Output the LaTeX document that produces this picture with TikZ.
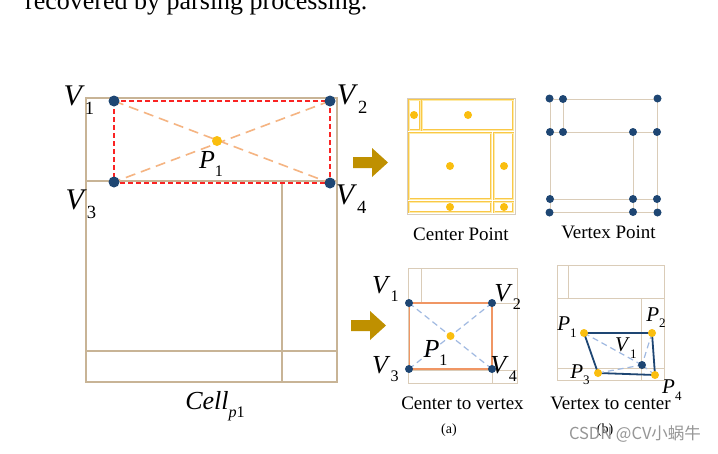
\documentclass[tikz,border=0pt]{standalone}
\usepackage{fontspec}
\setmainfont{Liberation Serif}
\newfontfamily\cjk{Noto Sans CJK SC}
\usetikzlibrary{positioning, backgrounds}

\definecolor{vblue}{RGB}{30,70,115}
\definecolor{cyellow}{RGB}{250,190,15}
\definecolor{celltan}{RGB}{200,180,150}
\definecolor{thintan}{RGB}{218,204,184}
\definecolor{reddash}{RGB}{250,35,35}
\definecolor{peach}{RGB}{245,180,130}
\definecolor{rectorange}{RGB}{240,150,100}
\definecolor{dashblue}{RGB}{160,185,225}
\definecolor{arrowgold}{RGB}{191,144,0}
\definecolor{ylwline}{RGB}{250,200,70}
\definecolor{ylwpale}{RGB}{253,235,170}
\definecolor{cpframe}{RGB}{215,205,190}
\definecolor{wmgray}{RGB}{150,150,150}

% italic letter with a lowered upright index
\newcommand{\mlab}[2]{\textit{#1}\raisebox{-0.3em}{\scalebox{0.62}{#2}}}

\begin{document}
\begin{tikzpicture}[
  x=1pt, y=-1pt,
  vtx/.style={circle, fill=vblue, inner sep=0pt, minimum size=11pt},
  vtxs/.style={circle, fill=vblue, inner sep=0pt, minimum size=8pt},
  ctr/.style={circle, fill=cyellow, inner sep=0pt, minimum size=10pt},
  ctrs/.style={circle, fill=cyellow, inner sep=0pt, minimum size=8pt},
  bigmath/.style={inner sep=0pt, font=\fontsize{30}{32}\selectfont},
  midmath/.style={inner sep=0pt, font=\fontsize{26}{28}\selectfont},
  tinymath/.style={inner sep=0pt, font=\fontsize{21}{24}\selectfont},
  caption/.style={inner sep=0pt, font=\fontsize{19}{22}\selectfont},
  subcap/.style={inner sep=0pt, font=\fontsize{14}{16}\selectfont},
  cellgrid/.style={draw=celltan, line width=1.8pt},
  thingrid/.style={draw=thintan, line width=1pt},
  boxframe/.style={rectangle, draw=thintan, line width=1pt, inner sep=0pt},
  cpcell/.style={draw=ylwline, double=ylwpale, double distance=0.9pt, line width=0.8pt},
  fatarrow/.style={fill=arrowgold, draw=none},
  redbox/.style={draw=reddash, line width=2pt, dash pattern=on 5pt off 3pt},
  peachdash/.style={draw=peach, line width=1.6pt, dash pattern=on 10pt off 6pt},
  bluedash/.style={draw=dashblue, line width=1.2pt, dash pattern=on 6pt off 4pt},
]

\useasboundingbox (0,0) rectangle (718,453);
\begin{scope}[on background layer]
  \fill[white] (0,0) rectangle (718,453);
\end{scope}
\clip (0,0) rectangle (718,453);

%% ════════════════════════════════════════════════
%% Text line cut by the top edge
%% ════════════════════════════════════════════════
\node[anchor=base west, inner sep=0pt, font=\fontsize{26}{30}\selectfont]
  (toptext) at (25,9) {recovered by parsing processing.};

%% ════════════════════════════════════════════════
%% Cell p1 — left
%% ════════════════════════════════════════════════
\node[vtx] (v1) at (114,101) {};
\node[vtx] (v2) at (330,101) {};
\node[vtx] (v3) at (114,182) {};
\node[vtx] (v4) at (330,183) {};
\node[ctr] (p1) at (217,141) {};

\begin{scope}[on background layer]
  \draw[cellgrid] (86,98) rectangle (337,382);
  \draw[cellgrid] (86,181) -- (337,181);
  \draw[cellgrid] (282,181) -- (282,382);
  \draw[cellgrid] (86,351) -- (337,351);
  \draw[redbox] (v1.center) rectangle (v4.center);
  \draw[peachdash] (v1.center) -- (v4.center);
  \draw[peachdash] (v2.center) -- (v3.center);
\end{scope}

\node[bigmath, left=14pt of v1, yshift=1pt] (v1lbl) {\mlab{V}{1}};
\node[bigmath, right=1pt of v2, yshift=2pt] (v2lbl) {\mlab{V}{2}};
\node[bigmath, left=12pt of v3, yshift=-22pt] (v3lbl) {\mlab{V}{3}};
\node[bigmath, right=0pt of v4, yshift=-16pt] (v4lbl) {\mlab{V}{4}};
\node[midmath, below=5pt of p1, xshift=-6pt] (p1lbl) {\mlab{P}{1}};
\node[midmath] (celllbl) at (215,406) {\mlab{Cell}{\textit{p}1}};

%% Arrows to the four panels
\fill[fatarrow] (353,157) -- (372,157) -- (372,148) -- (388,162.5)
  -- (372,177) -- (372,168) -- (353,168) -- cycle;
\fill[fatarrow] (351,320) -- (370,320) -- (370,311) -- (386,325.5)
  -- (370,340) -- (370,331) -- (351,331) -- cycle;

%% ════════════════════════════════════════════════
%% Center Point panel
%% ════════════════════════════════════════════════
\node[boxframe, draw=cpframe, minimum width=108pt, minimum height=116pt]
  (cpanel) at (461,156) {};
\draw[cpcell] (409,100) rectangle (420,130);
\draw[cpcell] (422,100) rectangle (513,130);
\draw[cpcell] (409,133) rectangle (491,199);
\draw[cpcell] (494,133) rectangle (513,199);
\draw[cpcell] (409,202) rectangle (491,212);
\draw[cpcell] (494,202) rectangle (513,212);

\node[ctrs] (c1) at (414,115) {};
\node[ctrs] (c2) at (468,115) {};
\node[ctrs] (c3) at (450,166) {};
\node[ctrs] (c4) at (504,166) {};
\node[ctrs] (c5) at (450,207) {};
\node[ctrs] (c6) at (504,207) {};

\node[caption, below=13pt of cpanel] (cplbl) {Center Point};

%% ════════════════════════════════════════════════
%% Vertex Point panel
%% ════════════════════════════════════════════════
\node[boxframe, minimum width=107pt, minimum height=113pt]
  (vpanel) at (603.5,155.5) {};
\node[vtxs] (q1)  at (vpanel.north west) {};
\node[vtxs] (q2)  at (563,99) {};
\node[vtxs] (q3)  at (vpanel.north east) {};
\node[vtxs] (q4)  at (550,132) {};
\node[vtxs] (q5)  at (563,132) {};
\node[vtxs] (q6)  at (633,132) {};
\node[vtxs] (q7)  at (657,132) {};
\node[vtxs] (q8)  at (550,199) {};
\node[vtxs] (q9)  at (633,199) {};
\node[vtxs] (q10) at (657,199) {};
\node[vtxs] (q11) at (vpanel.south west) {};
\node[vtxs] (q12) at (633,212) {};
\node[vtxs] (q13) at (vpanel.south east) {};

\begin{scope}[on background layer]
  \draw[thingrid] (q2.center) -- (q5.center);
  \draw[thingrid] (q4.center) -- (q7.center);
  \draw[thingrid] (q6.center) -- (q12.center);
  \draw[thingrid] (q8.center) -- (q10.center);
\end{scope}

\node[caption, below=13pt of vpanel, xshift=5pt] (vplbl) {Vertex Point};

%% ════════════════════════════════════════════════
%% (a) Center to vertex
%% ════════════════════════════════════════════════
\node[boxframe, minimum width=109pt, minimum height=115pt]
  (apanel) at (462.5,325.5) {};
\node[vtxs] (av1) at (409,303) {};
\node[vtxs] (av2) at (492,303) {};
\node[vtxs] (av3) at (409,369) {};
\node[vtxs] (av4) at (492,369) {};
\node[ctrs] (ap1) at (450.5,336) {};

\begin{scope}[on background layer]
  \draw[thingrid] (421,268) -- (421,303);
  \draw[thingrid] (408,303) -- (517,303);
  \draw[thingrid] (492,303) -- (492,383);
  \draw[thingrid] (408,370) -- (517,370);
  \draw[draw=rectorange, line width=1.5pt] (av1.center) rectangle (av4.center);
  \draw[bluedash] (av1.center) -- (av4.center);
  \draw[bluedash] (av2.center) -- (av3.center);
\end{scope}

\node[midmath, left=6pt of av1, yshift=14pt] (av1lbl) {\mlab{V}{1}};
\node[midmath, right=-2pt of av2, yshift=6pt] (av2lbl) {\mlab{V}{2}};
\node[midmath, left=6pt of av3] (av3lbl) {\mlab{V}{3}};
\node[midmath, right=-6pt of av4] (av4lbl) {\mlab{V}{4}};
\node[midmath, below=0pt of ap1, xshift=-15pt] (ap1lbl) {\mlab{P}{1}};

\node[caption, below=13pt of apanel] (alabel) {Center to vertex};
\node[subcap] (atag) at (449,430) {(a)};

%% ════════════════════════════════════════════════
%% (b) Vertex to center
%% ════════════════════════════════════════════════
\node[boxframe, minimum width=107pt, minimum height=115pt]
  (bpanel) at (610.5,322.5) {};
\node[ctrs] (bp1) at (584,333) {};
\node[ctrs] (bp2) at (652,333) {};
\node[ctrs] (bp3) at (598,373) {};
\node[ctrs] (bp4) at (655,375) {};
\node[vtxs] (bv1) at (642,365) {};

\begin{scope}[on background layer]
  \draw[thingrid] (568,265) -- (568,298);
  \draw[thingrid] (557,298) -- (664,298);
  \draw[thingrid] (641,298) -- (641,380);
  \draw[thingrid] (557,368) -- (664,368);
  \draw[draw=vblue, line width=1.8pt] (bp1.center) -- (bp2.center)
    -- (bp4.center) -- (bp3.center) -- cycle;
  \draw[bluedash] (bp1.center) -- (bv1.center);
  \draw[bluedash] (bp2.center) -- (bv1.center);
  \draw[bluedash] (bp3.center) -- (bv1.center);
  \draw[bluedash] (bp4.center) -- (bv1.center);
\end{scope}

\node[tinymath, left=3pt of bp1, yshift=6pt] (bp1lbl) {\mlab{P}{1}};
\node[tinymath, above=1pt of bp2, xshift=4pt] (bp2lbl) {\mlab{P}{2}};
\node[tinymath, left=4pt of bp3, yshift=-2pt] (bp3lbl) {\mlab{P}{3}};
\node[tinymath, below right=2pt and 4pt of bp4] (bp4lbl) {\mlab{P}{4}};
\node[tinymath, left=1pt of bv1, yshift=17pt] (bv1lbl) {\mlab{V}{1}};

\node[caption, below=16pt of bpanel] (blabel) {Vertex to center};
\node[subcap] (btag) at (605,430) {(b)};

%% Watermark
\node[inner sep=0pt, text=wmgray, font=\cjk\fontsize{16.5}{18}\selectfont]
  (wm) at (635,434) {CSDN @CV小蜗牛};

\end{tikzpicture}
\end{document}
